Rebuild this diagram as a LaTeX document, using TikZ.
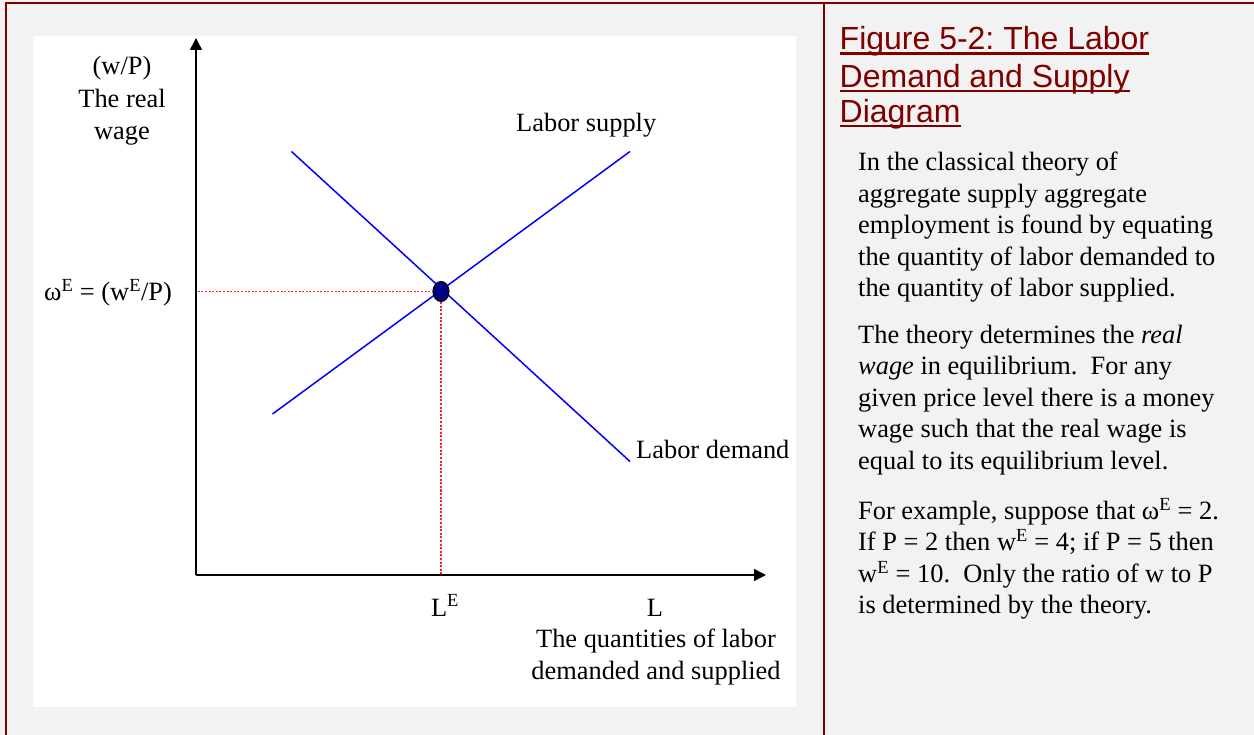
\documentclass[tikz,border=0pt]{standalone}
\usepackage{fontspec}
\setmainfont{Liberation Serif}
\newfontfamily\titlefont{Liberation Sans}
\usetikzlibrary{arrows.meta,shapes.geometric}
\definecolor{maroonc}{HTML}{800000}
\definecolor{bgc}{HTML}{F2F2F2}
\definecolor{navyc}{HTML}{000080}
\definecolor{curvec}{HTML}{0000FF}
\definecolor{guidec}{HTML}{FF2020}
\tikzset{
  lbl/.style={inner sep=0pt, font=\fontsize{26.4}{31}\selectfont},
  body/.style={inner sep=0pt, anchor=base west, font=\fontsize{26.4}{31.5}\selectfont},
  ttl/.style={inner sep=0pt, anchor=base west, text=maroonc, font=\titlefont\fontsize{32}{35}\selectfont},
  axis/.style={line width=1.6pt, -{Triangle[length=12pt,width=12pt]}},
  curve/.style={curvec, line width=1.5pt},
  guide/.style={draw=guidec, line width=1.4pt, dash pattern=on 2pt off 1.6pt},
  border/.style={maroonc, line width=2.6pt},
}
\newcommand{\ul}[1]{\setbox0\hbox{#1}\rlap{\rule[-4.6pt]{\wd0}{2.2pt}}\box0}
\frenchspacing
\begin{document}
\begin{tikzpicture}[x=1pt,y=-1pt]
\useasboundingbox (0,0) rectangle (1254,735);
\fill[bgc] (0,0) rectangle (1254,735);
\fill[white] (33,36) rectangle (796,707);
% borders
\draw[border] (5,3) -- (1254,3);
\draw[border] (6,2) -- (6,735);
\draw[border] (824,3) -- (824,735);
% axes
\coordinate (O) at (196,575);
\coordinate (ytop) at (196,38);
\coordinate (xend) at (766,575);
\draw[axis] (O) -- (ytop);
\draw[axis] (O) -- (xend);
% curves
\coordinate (d1) at (291.5,151.5);
\coordinate (d2) at (630,461.5);
\coordinate (s1) at (272.5,414);
\coordinate (s2) at (630,151.5);
\coordinate (E) at (441,291.5);
\coordinate (Ey) at (197,291.5);
\coordinate (Ex) at (441,574);
\draw[guide] (E) -- (Ey);
\draw[guide] (E) -- (Ex);
\draw[curve] (d1) -- (d2);
\draw[curve] (s1) -- (s2);
\node[draw=black, fill=navyc, line width=1.1pt, ellipse, minimum width=16pt, minimum height=20pt, inner sep=0pt] (eq) at (E) {};
% left labels
\node[lbl, anchor=base] (yl1) at (122,75) {(w/P)};
\node[lbl, anchor=base] (yl2) at (122,108) {The real};
\node[lbl, anchor=base] (yl3) at (122,139.5) {wage};
\node[lbl, anchor=base west] (wE) at (44,301) {ω\textsuperscript{E} = (w\textsuperscript{E}/P)};
\node[lbl, anchor=base west] (ls) at (516,132) {Labor supply};
\node[lbl, anchor=base west] (ld) at (636,458) {Labor demand};
\node[lbl, anchor=base] (LE) at (445,616) {L\textsuperscript{E}};
\node[lbl, anchor=base] (L) at (655,616) {L};
\node[lbl, anchor=base] (xl1) at (656,647.5) {The quantities of labor};
\node[lbl, anchor=base] (xl2) at (656,679) {demanded and supplied};
% title
\node[ttl] (t1) at (839.5,50) {\ul{Figure 5-2: The Labor}};
\node[ttl] (t2) at (839.5,87.3) {\ul{Demand and Supply}};
\node[ttl] (t3) at (839.5,122.3) {\ul{Diagram}};
% body
\node[body] (p11) at (858,170.7) {In the classical theory of};
\node[body] (p12) at (858,202.2) {aggregate supply aggregate};
\node[body] (p13) at (858,233.7) {employment is found by equating};
\node[body] (p14) at (858,265.2) {the quantity of labor demanded to};
\node[body] (p15) at (858,296.7) {the quantity of labor supplied.};
\node[body] (p21) at (858,343.3) {The theory determines the \textit{real}};
\node[body] (p22) at (858,375) {\textit{wage} in equilibrium.\ \ For any};
\node[body] (p23) at (858,406.5) {given price level there is a money};
\node[body] (p24) at (858,438) {wage such that the real wage is};
\node[body] (p25) at (858,469.3) {equal to its equilibrium level.};
\node[body] (p31) at (858,519.3) {For example, suppose that ω\textsuperscript{E} = 2.};
\node[body] (p32) at (858,550.8) {If P = 2 then w\textsuperscript{E} = 4; if P = 5 then};
\node[body] (p33) at (858,582.5) {w\textsuperscript{E} = 10.\ \ Only the ratio of w to P};
\node[body] (p34) at (858,613.5) {is determined by the theory.};
\end{tikzpicture}
\end{document}
